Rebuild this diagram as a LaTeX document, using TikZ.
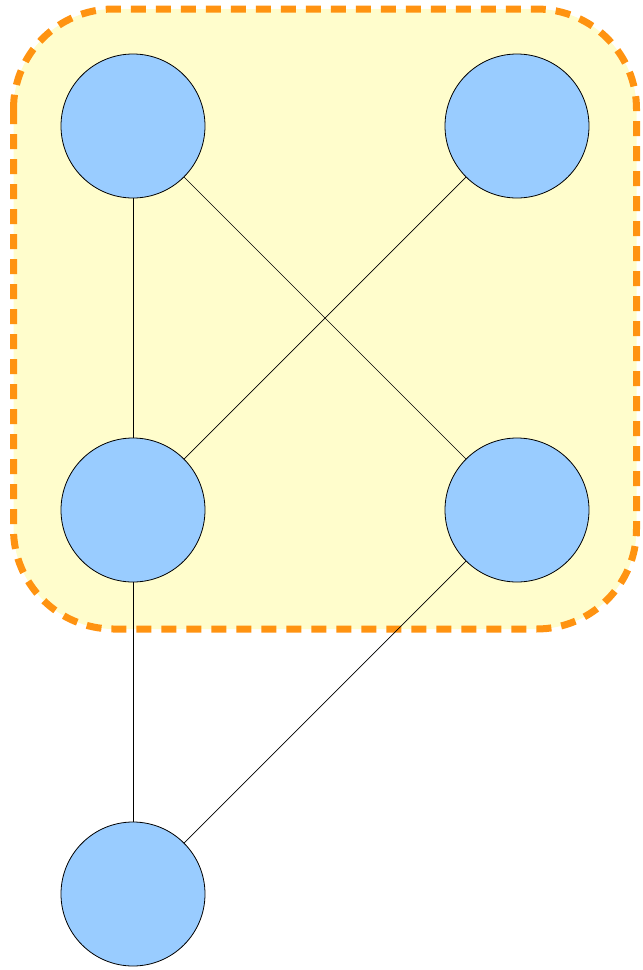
\documentclass[tikz,border=0pt]{standalone}
\begin{document}
\begin{tikzpicture}[x=1pt,y=-1pt,
  vnode/.style={circle,draw=black,line width=0.8pt,fill=nodeblue,minimum size=144pt,inner sep=0pt},
  edge/.style={draw=black,line width=0.7pt},
  group/.style={draw=grouporange,fill=groupyellow,line width=7pt,dash pattern=on 15pt off 10pt,rounded corners=100pt}]
\definecolor{nodeblue}{HTML}{99CCFF}
\definecolor{groupyellow}{HTML}{FFFDCC}
\definecolor{grouporange}{HTML}{FF9311}
\useasboundingbox (0,0) rectangle (643,970);
\draw[group] (13.5,9) rectangle (636.5,629);
\node[vnode] (tl) at (133,126) {};
\node[vnode] (tr) at (517,126) {};
\node[vnode] (ml) at (133,510) {};
\node[vnode] (mr) at (517,510) {};
\node[vnode] (b) at (133,894) {};
\draw[edge] (tl) -- (ml);
\draw[edge] (tl) -- (mr);
\draw[edge] (tr) -- (ml);
\draw[edge] (ml) -- (b);
\draw[edge] (mr) -- (b);
\end{tikzpicture}
\end{document}
